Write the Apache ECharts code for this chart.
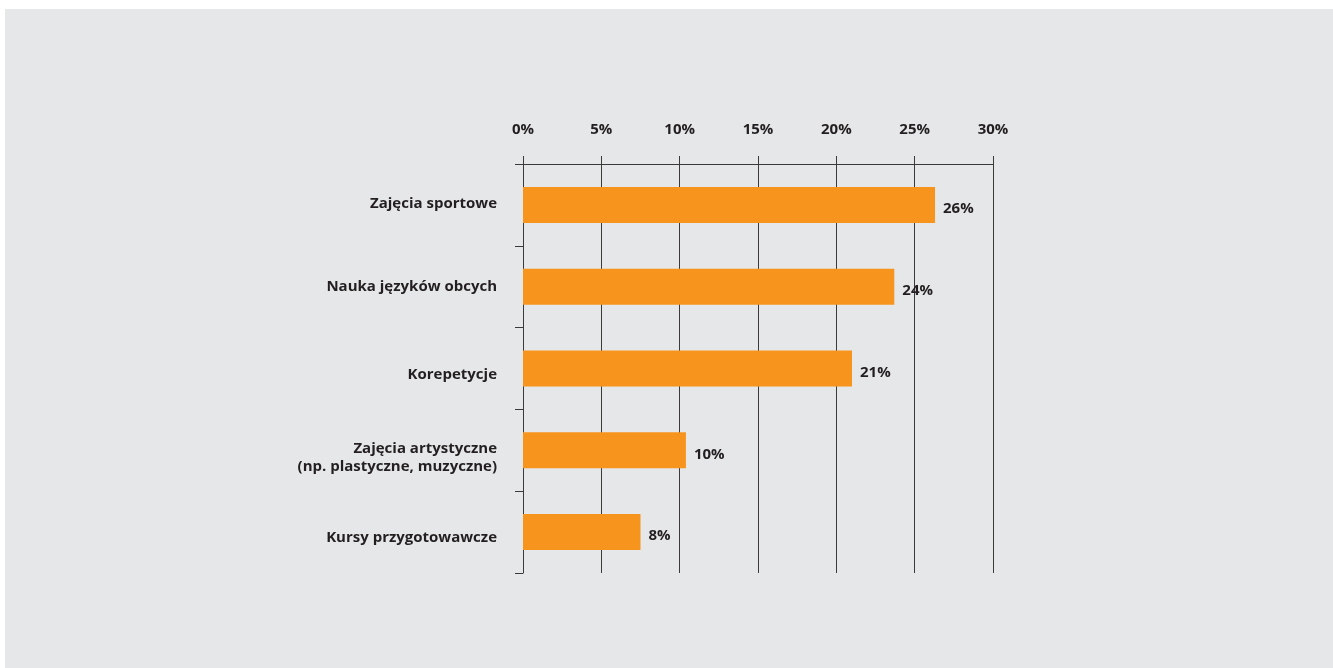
<!DOCTYPE html>
<html>
<head>
<meta charset="utf-8">
<script src="https://cdn.jsdelivr.net/npm/echarts@6/dist/echarts.min.js"></script>
<style>
html,body{margin:0;padding:0;background:#ffffff;width:1333px;height:668px;overflow:hidden;}
#chart{position:absolute;left:5px;top:9px;width:1328px;height:659px;background:#e6e7e8;}
</style>
</head>
<body>
<div id="chart"></div>
<script>
const categories = ['Zajęcia sportowe', 'Nauka języków obcych', 'Korepetycje', 'Zajęcia artystyczne\n(np. plastyczne, muzyczne)', 'Kursy przygotowawcze'];
const values = [26.3, 23.7, 21.0, 10.4, 7.5];
const xTicks = [0, 5, 10, 15, 20, 25, 30];

const chart = echarts.init(document.getElementById('chart'), null, {renderer: 'canvas'});
const textColor = '#231f20';
const lineColor = '#3a3a3a';
const fontFamily = '"Open Sans", Lato, sans-serif';
const fw = 700;
const fs = 15;
// per-label vertical nudges (px) to mimic the reference placement
const shifts = [-1, 0, 6, 0, 6];
const base = {color: textColor, fontFamily: fontFamily, fontWeight: fw, fontSize: fs};
const rich = {};
shifts.forEach((d, i) => {
  rich['s' + i] = Object.assign({}, base, {
    lineHeight: 19,
    padding: d >= 0 ? [2 * d, 0, 0, 0] : [0, 0, -2 * d, 0]
  });
});
rich.m1 = Object.assign({}, base, {lineHeight: 32, verticalAlign: 'bottom'});
rich.m2 = Object.assign({}, base, {lineHeight: 20});

chart.setOption({
  animation: false,
  grid: {left: 518, top: 155, width: 470, height: 409},
  xAxis: {
    type: 'value',
    position: 'top',
    min: xTicks[0],
    max: xTicks[xTicks.length - 1],
    interval: 5,
    axisLine: {show: true, lineStyle: {color: lineColor, width: 1}},
    axisTick: {show: true, length: 8, inside: false, lineStyle: {color: lineColor}},
    splitLine: {show: true, lineStyle: {color: lineColor, width: 1}},
    axisLabel: Object.assign({}, base, {
      margin: 27,
      formatter: v => v + '%'
    })
  },
  yAxis: {
    type: 'category',
    inverse: true,
    data: categories,
    axisLine: {show: true, lineStyle: {color: lineColor, width: 1}},
    axisTick: {show: true, length: 8, lineStyle: {color: lineColor}},
    axisLabel: Object.assign({}, base, {
      margin: 26,
      lineHeight: 19,
      align: 'right',
      rich: rich,
      formatter: (v, i) => {
        const lines = v.split('\n');
        if (lines.length > 1) {
          return '{m1|' + lines[0] + '}\n{m2|' + lines[1] + '}';
        }
        return '{s' + i + '|' + v + '}';
      }
    })
  },
  series: [{
    type: 'bar',
    data: values,
    barWidth: 36,
    itemStyle: {color: '#f7941d'},
    label: Object.assign({}, base, {
      show: true,
      position: 'right',
      distance: 8,
      offset: [0, 4],
      formatter: p => Math.round(p.value) + '%'
    })
  }]
});
</script>
</body>
</html>
